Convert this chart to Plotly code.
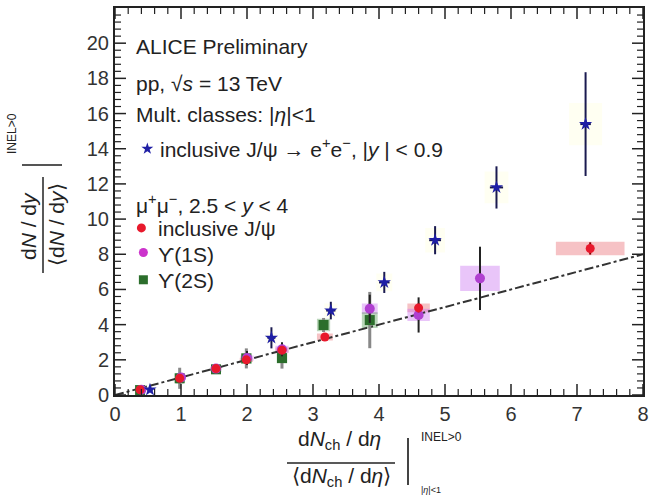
import plotly.graph_objects as go
from plotly.subplots import make_subplots

# ---------------- data ----------------
# inclusive J/psi -> e+e-, |y|<0.9 (blue stars)
jee_x = [0.53, 2.37, 3.27, 4.08, 4.85, 5.78, 7.13]
jee_y = [0.30, 3.25, 4.80, 6.40, 8.80, 11.80, 15.40]
jee_err = [0.12, 0.60, 0.50, 0.60, 0.80, 1.20, 2.95]
jee_xerr = [0.04, 0.06, 0.07, 0.08, 0.09, 0.10, 0.08]
jee_xsys = [0.05, 0.08, 0.10, 0.12, 0.15, 0.18, 0.25]
jee_ysys = [0.10, 0.30, 0.40, 0.50, 0.70, 0.90, 1.20]

# inclusive J/psi, mu+mu-, 2.5<y<4 (red circles)
jmm_x = [0.38, 0.98, 1.53, 1.99, 2.53, 3.18, 4.60, 7.20]
jmm_y = [0.30, 0.95, 1.50, 2.00, 2.55, 3.30, 4.95, 8.33]
jmm_err = [0.05, 0.08, 0.08, 0.10, 0.12, 0.15, 0.25, 0.35]
jmm_xsys = [0.05, 0.06, 0.08, 0.10, 0.10, 0.12, 0.17, 0.52]
jmm_ysys = [0.05, 0.08, 0.10, 0.12, 0.15, 0.20, 0.25, 0.38]

# Upsilon(1S) (purple circles)
u1_x = [0.40, 1.00, 1.53, 2.00, 2.53, 3.86, 4.60, 5.53]
u1_y = [0.30, 1.00, 1.50, 2.10, 2.60, 4.90, 4.55, 6.63]
u1_err = [0.10, 0.20, 0.15, 0.40, 0.40, 0.80, 1.00, 1.80]
u1_xsys = [0.05, 0.06, 0.08, 0.10, 0.10, 0.12, 0.17, 0.30]
u1_ysys = [0.05, 0.10, 0.10, 0.15, 0.20, 0.30, 0.35, 0.72]

# Upsilon(2S) (green squares)
u2_x = [0.38, 0.98, 1.53, 1.99, 2.53, 3.16, 3.86]
u2_y = [0.28, 0.95, 1.46, 2.08, 2.10, 3.98, 4.26]
u2_err = [0.15, 0.60, 0.20, 0.57, 0.60, 0.40, 1.60]
u2_xsys = [0.05, 0.06, 0.08, 0.08, 0.08, 0.10, 0.12]
u2_ysys = [0.10, 0.30, 0.15, 0.30, 0.30, 0.35, 0.45]

# linear reference (y = x)
line_x = [0.0, 8.0]
line_y = [0.0, 8.0]

x_ticks = [0, 1, 2, 3, 4, 5, 6, 7, 8]
y_ticks = [0, 2, 4, 6, 8, 10, 12, 14, 16, 18, 20]
x_minor_step = 0.2
y_minor_step = 0.4

FONT = "Liberation Sans, Arial, sans-serif"
BLUE = "#1f1fa5"
RED = "#e8192c"
PURPLE = "#b040d0"
GREEN = "#2c6e2c"

fig = make_subplots(rows=1, cols=1)


def sys_boxes(xs, ys, dx, dy, fill):
    bx, by = [], []
    for x, y, a, b in zip(xs, ys, dx, dy):
        bx += [x - a, x + a, x + a, x - a, x - a, None]
        by += [y - b, y - b, y + b, y + b, y - b, None]
    fig.add_trace(go.Scatter(x=bx, y=by, mode="lines", fill="toself",
                             fillcolor=fill, line=dict(width=0, color=fill),
                             showlegend=False, hoverinfo="skip"), row=1, col=1)


sys_boxes(jee_x, jee_y, jee_xsys, jee_ysys, "rgba(255,255,150,0.12)")
sys_boxes(jmm_x, jmm_y, jmm_xsys, jmm_ysys, "rgba(230,80,90,0.35)")
sys_boxes(u1_x, u1_y, u1_xsys, u1_ysys, "rgba(200,110,240,0.4)")
sys_boxes(u2_x, u2_y, u2_xsys, u2_ysys, "rgba(60,140,60,0.35)")

fig.add_trace(go.Scatter(x=line_x, y=line_y, mode="lines",
                         line=dict(color="#333333", width=2, dash="dashdot"),
                         showlegend=False, hoverinfo="skip"), row=1, col=1)

fig.add_trace(go.Scatter(x=u2_x, y=u2_y, mode="markers",
                         error_y=dict(type="data", array=u2_err, color="#888888", thickness=3, width=0),
                         marker=dict(symbol="square", size=10, color=GREEN),
                         showlegend=False), row=1, col=1)
fig.add_trace(go.Scatter(x=u1_x, y=u1_y, mode="markers",
                         error_y=dict(type="data", array=u1_err, color="#222222", thickness=2, width=0),
                         marker=dict(symbol="circle", size=10, color=PURPLE),
                         showlegend=False), row=1, col=1)
fig.add_trace(go.Scatter(x=jmm_x, y=jmm_y, mode="markers",
                         error_y=dict(type="data", array=jmm_err, color="#8b0000", thickness=2, width=0),
                         marker=dict(symbol="circle", size=9, color=RED),
                         showlegend=False), row=1, col=1)
fig.add_trace(go.Scatter(x=jee_x, y=jee_y, mode="markers",
                         error_y=dict(type="data", array=jee_err, color="#1a1a50", thickness=2, width=0),
                         error_x=dict(type="data", array=jee_xerr, color="#1a1a50", thickness=2, width=0),
                         marker=dict(symbol="star", size=10, color=BLUE),
                         showlegend=False), row=1, col=1)

# --- legend-like markers (positions in data units) ---
leg_x = [0.49, 0.40, 0.43, 0.43]
leg_y = [14.0, 9.5, 8.1, 6.55]
leg_sym = ["star", "circle", "circle", "square"]
leg_col = [BLUE, RED, "#cc33cc", GREEN]
for lx, ly, s, c in zip(leg_x, leg_y, leg_sym, leg_col):
    fig.add_trace(go.Scatter(x=[lx], y=[ly], mode="markers",
                             marker=dict(symbol=s, size=9, color=c),
                             showlegend=False, hoverinfo="skip"), row=1, col=1)


def ptxt(text, px, py, size=20, xanchor="left", angle=0):
    fig.add_annotation(text=text, xref="paper", yref="paper",
                       x=(px - 115) / 528, y=(395 - py) / 387,
                       xanchor=xanchor, yanchor="middle", showarrow=False,
                       textangle=angle, font=dict(family=FONT, size=size, color="#222"))


ptxt("ALICE Preliminary", 134, 47, size=21)
ptxt("pp, √<i>s</i> = 13 TeV", 134, 83, size=21)
ptxt("Mult. classes: |<i>η</i>|<1", 134, 115, size=21)
ptxt("inclusive J/ψ → e<sup>+</sup>e<sup>−</sup>, |<i>y</i> | < 0.9", 158, 148, size=21)
ptxt("μ<sup>+</sup>μ<sup>−</sup>, 2.5 < <i>y</i> < 4", 134, 204, size=21)
ptxt("inclusive J/ψ", 156, 228, size=21)
ptxt("ϒ(1S)", 156, 254, size=21)
ptxt("ϒ(2S)", 156, 281, size=21)

# y-axis title
ptxt("d<i>N</i> / d<i>y</i>", 28, 226, size=21, xanchor="center", angle=-90)
ptxt("⟨d<i>N</i> / d<i>y</i>⟩", 57, 225, size=21, xanchor="center", angle=-90)
ptxt("INEL>0", 12, 134, size=12, xanchor="center", angle=-90)
fig.add_shape(type="line", xref="paper", yref="paper",
              x0=(43 - 115) / 528, x1=(43 - 115) / 528,
              y0=(395 - 177) / 387, y1=(395 - 273) / 387,
              line=dict(color="#222", width=1.5))
fig.add_shape(type="line", xref="paper", yref="paper",
              x0=(22 - 115) / 528, x1=(62 - 115) / 528,
              y0=(395 - 165) / 387, y1=(395 - 165) / 387,
              line=dict(color="#555", width=2))

# x-axis title
ptxt("d<i>N</i><sub>ch</sub> / d<i>η</i>", 339, 440, size=21, xanchor="center")
ptxt("⟨d<i>N</i><sub>ch</sub> / d<i>η</i>⟩", 341, 477, size=21, xanchor="center")
ptxt("INEL>0", 441, 437, size=12, xanchor="center")
ptxt("|<i>η</i>|<1", 431, 490, size=9, xanchor="center")
fig.add_shape(type="line", xref="paper", yref="paper",
              x0=(287 - 115) / 528, x1=(395 - 115) / 528,
              y0=(395 - 463) / 387, y1=(395 - 463) / 387,
              line=dict(color="#222", width=1.5))
fig.add_shape(type="line", xref="paper", yref="paper",
              x0=(408 - 115) / 528, x1=(408 - 115) / 528,
              y0=(395 - 438) / 387, y1=(395 - 485) / 387,
              line=dict(color="#444", width=2))

# --- inside tick marks on all four sides, placed through the axis scales ---
MAJ, MIN = 11, 6          # tick lengths in px
PW, PH = 528, 387         # plot area size in px


def xtick(xv, length, width):
    for y0, y1 in ((0, length / PH), (1, 1 - length / PH)):
        fig.add_shape(type="line", xref="x", yref="paper", x0=xv, x1=xv, y0=y0, y1=y1,
                      line=dict(color="#222", width=width))


def ytick(yv, length, width):
    for x0, x1 in ((0, length / PW), (1, 1 - length / PW)):
        fig.add_shape(type="line", xref="paper", yref="y", x0=x0, x1=x1, y0=yv, y1=yv,
                      line=dict(color="#222", width=width))


for xv in x_ticks:
    xtick(xv, MAJ, 1.5)
n_xm = int(round((x_ticks[-1] - x_ticks[0]) / x_minor_step))
for i in range(n_xm + 1):
    xv = x_ticks[0] + i * x_minor_step
    if abs(xv - round(xv)) > 1e-6:
        xtick(xv, MIN, 1.2)

for yv in y_ticks:
    ytick(yv, MAJ, 1.5)
n_ym = int(round(22 / y_minor_step))
for i in range(n_ym + 1):
    yv = i * y_minor_step
    if abs(yv / 2 - round(yv / 2)) > 1e-6:
        ytick(yv, MIN, 1.2)

fig.update_xaxes(range=[0, 8], tickmode="array", tickvals=x_ticks,
                 ticktext=[str(v) for v in x_ticks], ticks="",
                 showline=True, linecolor="#222", linewidth=2, mirror=True,
                 showgrid=False, zeroline=False, automargin=False,
                 tickfont=dict(family=FONT, size=20, color="#333"), row=1, col=1)
fig.update_yaxes(range=[0, 22], tickmode="array", tickvals=y_ticks,
                 ticktext=[str(v) for v in y_ticks], ticks="",
                 showline=True, linecolor="#222", linewidth=2, mirror=True,
                 showgrid=False, zeroline=False, automargin=False,
                 tickfont=dict(family=FONT, size=20, color="#333"), row=1, col=1)

fig.update_layout(template="none", width=649, height=498,
                  margin=dict(l=115, r=6, t=8, b=103, autoexpand=False),
                  paper_bgcolor="white", plot_bgcolor="white",
                  font=dict(family=FONT, color="#222"),
                  showlegend=False)

fig.write_html("out.html", config={"displayModeBar": False},
               post_script="document.body.style.margin='0';")
